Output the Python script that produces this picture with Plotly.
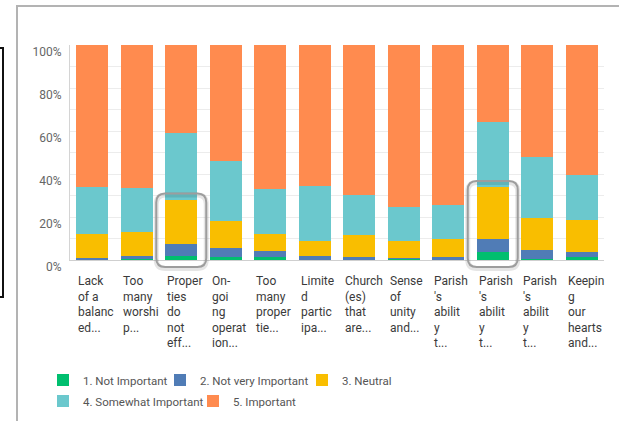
import plotly.graph_objects as go

# ---------------- data ----------------
labels = [
    "Lack<br>of a<br>balanc<br>ed...",
    "Too<br>many<br>worshi<br>p...",
    "Proper<br>ties<br>do<br>not<br>eff...",
    "On-<br>goi<br>ng<br>operat<br>ion...",
    "Too<br>many<br>proper<br>tie...",
    "Limite<br>d<br>partic<br>ipa...",
    "Church<br>(es)<br>that<br>are...",
    "Sense<br>of<br>unity<br>and...",
    "Parish<br>'s<br>abilit<br>y<br>t...",
    "Parish<br>'s<br>abilit<br>y<br>t...",
    "Parish<br>'s<br>abilit<br>y<br>t...",
    "Keepin<br>g<br>our<br>hearts<br>and...",
]
not_important = [0, 0.5, 2.0, 1.2, 1.2, 0, 0, 0.5, 0, 3.7, 0.3, 1.4]
not_very_important = [1.0, 1.5, 5.6, 4.4, 3.0, 2.0, 1.4, 0.5, 1.4, 6.1, 4.4, 2.2]
neutral = [11.1, 11.2, 20.5, 12.5, 7.9, 7.0, 10.1, 8.0, 8.5, 24.2, 14.8, 15.0]
somewhat_important = [21.9, 20.4, 30.8, 27.8, 20.8, 25.6, 18.6, 15.5, 15.5, 30.3, 28.3, 20.8]
important = [66.0, 66.4, 41.1, 54.1, 67.1, 65.4, 69.9, 75.5, 74.6, 35.7, 52.2, 60.6]

series_names = ["1. Not Important", "2. Not very Important", "3. Neutral",
                "4. Somewhat Important", "5. Important"]
series_values = [not_important, not_very_important, neutral, somewhat_important, important]
series_colors = ["#00bf6f", "#507cb6", "#f9be00", "#6bc8cd", "#ff8b4f"]

highlighted = [2, 9]  # bars with highlight boxes

tick_vals = [0, 20, 40, 60, 80, 100]
tick_text = ["0%", "20%", "40%", "60%", "80%", "100%"]

# ---------------- layout geometry ----------------
FW, FH = 619, 421
ML, MR, MT, MB = 70, 15, 45, 161
PW = FW - ML - MR
PH = FH - MT - MB
n = len(labels)
xs = list(range(n))

# legend entry swatch centres (px) -- two rows
legend_pos = [(65, 380), (182, 380), (324, 380), (65, 401), (215, 401)]


def px_x(p):
    return (p - ML) / PW


def px_y(p):
    return (FH - MB - p) / PH


fig = go.Figure()
legend_layouts = {}
for k, (name, vals, col) in enumerate(zip(series_names, series_values, series_colors)):
    lg = "legend" if k == 0 else f"legend{k + 1}"
    fig.add_trace(go.Bar(
        x=xs, y=vals, name=name, marker=dict(color=col, line=dict(width=0)),
        legend=lg, hoverinfo="skip",
    ))
    sx, sy = legend_pos[k]
    legend_layouts[lg] = dict(
        orientation="h", x=px_x(sx - 22), xanchor="left", y=px_y(sy), yanchor="middle",
        font=dict(family="Roboto", size=11.5, color="#555555"),
        itemwidth=30, bgcolor="rgba(0,0,0,0)", borderwidth=0,
    )

shapes = []
# outer frame (left + top) of the container
shapes.append(dict(type="line", xref="paper", yref="paper",
                   x0=px_x(17), x1=px_x(17), y0=px_y(6), y1=px_y(FH + 5),
                   line=dict(color="#b3b3b3", width=2)))
shapes.append(dict(type="line", xref="paper", yref="paper",
                   x0=px_x(16), x1=px_x(FW + 5), y0=px_y(6), y1=px_y(6),
                   line=dict(color="#b3b3b3", width=2)))
# partial black box on the far left
shapes.append(dict(type="rect", xref="paper", yref="paper",
                   x0=px_x(-10), x1=px_x(3), y0=px_y(297), y1=px_y(48),
                   line=dict(color="#111111", width=2), fillcolor="white"))


def rounded_path(x0, x1, y0, y1, rpx):
    rx = rpx / PW
    ry = rpx / PH
    return (f"M {x0+rx},{y1} L {x1-rx},{y1} Q {x1},{y1} {x1},{y1-ry} "
            f"L {x1},{y0+ry} Q {x1},{y0} {x1-rx},{y0} L {x0+rx},{y0} "
            f"Q {x0},{y0} {x0},{y0+ry} L {x0},{y1-ry} Q {x0},{y1} {x0+rx},{y1} Z")


for i in highlighted:
    cum = not_important[i] + not_very_important[i] + neutral[i]
    cx = (i + 0.5) / n
    hw = 25 / PW
    top = cum / 100 + 6 / PH
    bot = -7 / PH
    shapes.append(dict(type="path", xref="paper", yref="paper", layer="above",
                       path=rounded_path(cx - hw, cx + hw, bot - 1.5 / PH, top - 1.5 / PH, 9),
                       line=dict(color="rgba(0,0,0,0.10)", width=5)))
    shapes.append(dict(type="path", xref="paper", yref="paper", layer="above",
                       path=rounded_path(cx - hw, cx + hw, bot, top, 9),
                       line=dict(color="#9d9d9d", width=2)))

annotations = []
for i, lab in enumerate(labels):
    annotations.append(dict(
        x=i - 0.36, y=px_y(272), xref="x", yref="paper",
        text=lab, showarrow=False, xanchor="left", yanchor="top", align="left",
        font=dict(family="Roboto", size=12, color="#3a3a3a"),
    ))

fig.update_layout(
    width=FW, height=FH,
    margin=dict(l=ML, r=MR, t=MT, b=MB, pad=0, autoexpand=False),
    paper_bgcolor="white", plot_bgcolor="white",
    barmode="stack", bargap=0.28,
    font=dict(family="Roboto", size=12, color="#666666"),
    xaxis=dict(range=[-0.5, n - 0.5], showticklabels=False, showgrid=False,
               zeroline=False, showline=True, linecolor="#cfcfcf", linewidth=1,
               ticks="", fixedrange=True),
    yaxis=dict(range=[0, 100], tickvals=tick_vals, ticktext=tick_text,
               showgrid=True, gridcolor="#ececec", gridwidth=1,
               minor=dict(dtick=10, showgrid=True, gridcolor="#ececec", gridwidth=1),
               zeroline=False, showline=True, linecolor="#d4d4d4", linewidth=1,
               ticks="", ticklabelstandoff=5, ticklabelshift=7,
               tickfont=dict(family="Roboto", size=12, color="#666666"),
               fixedrange=True),
    shapes=shapes,
    annotations=annotations,
    showlegend=True,
    **legend_layouts,
)

fig.write_html("out.html", config={"displayModeBar": False},
               post_script="document.body.style.margin='0px';")
